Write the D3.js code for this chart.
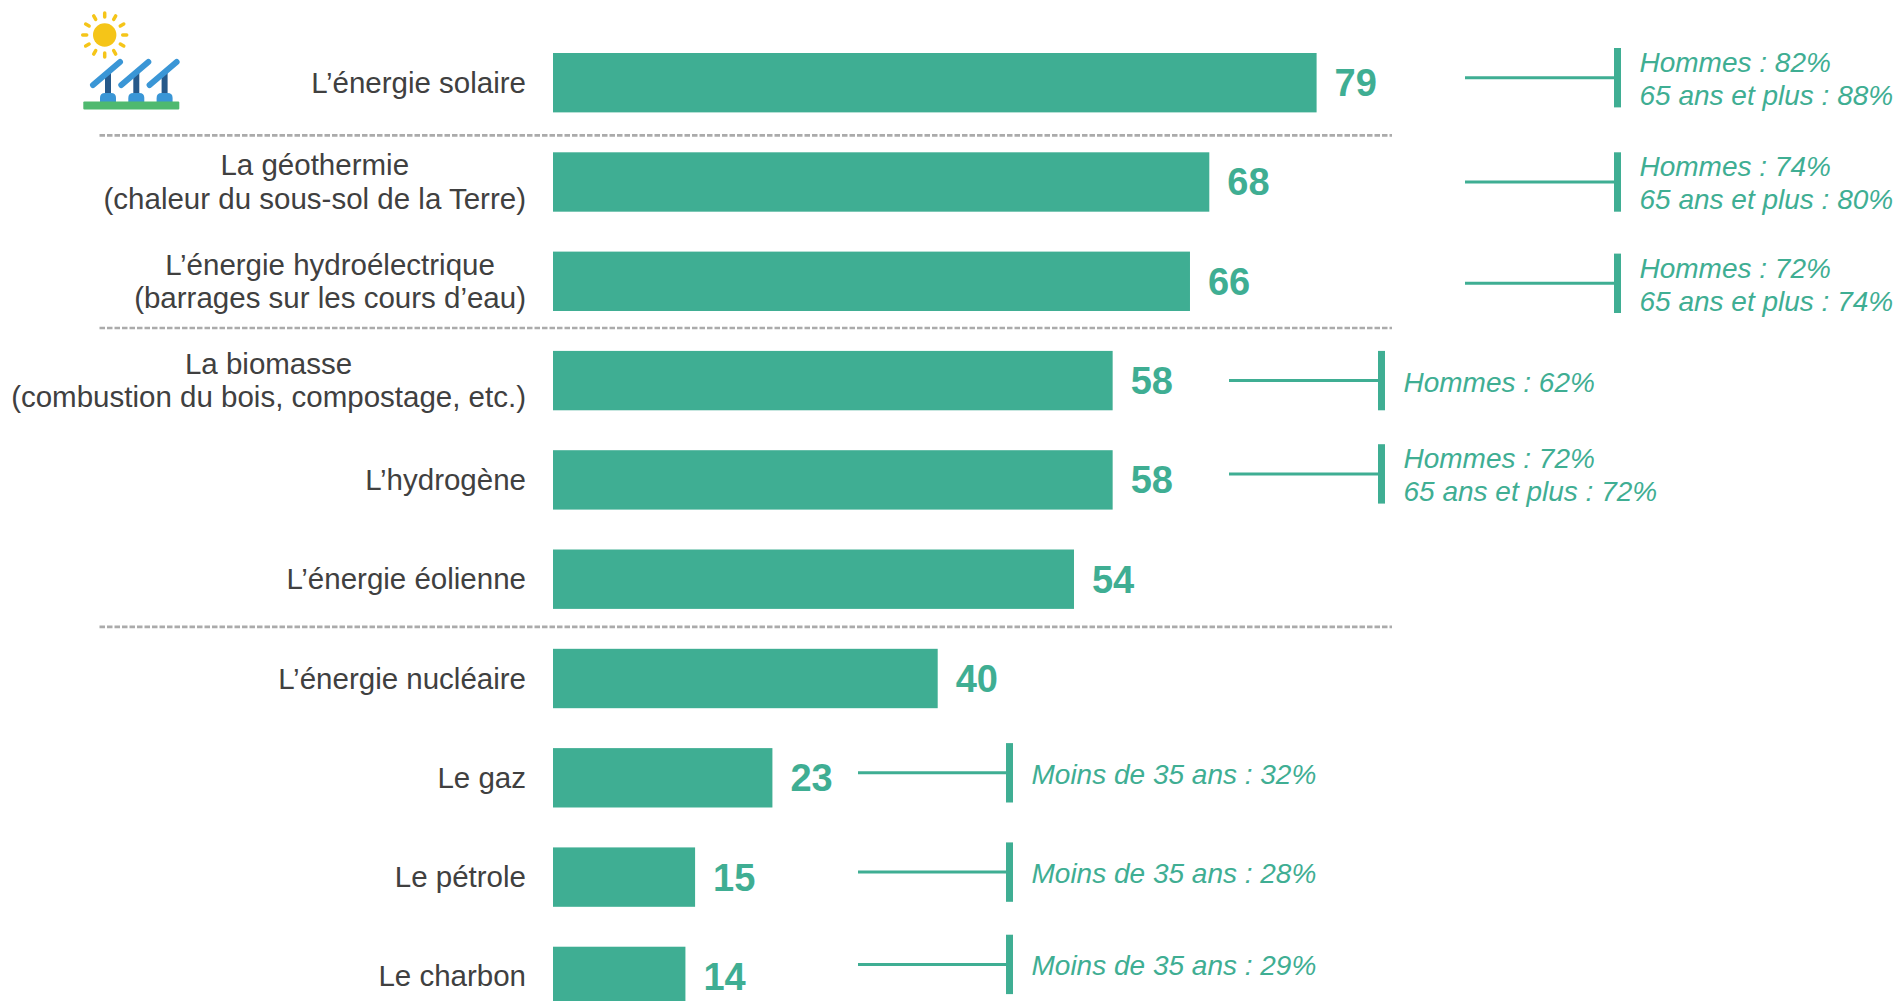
<!DOCTYPE html>
<html lang="fr"><head><meta charset="utf-8">
<script src="https://cdn.jsdelivr.net/npm/d3@7"></script>
<style>html,body{margin:0;background:#fff;overflow:hidden}svg{display:block}text{font-family:"Liberation Sans",Arial,sans-serif}</style>
</head><body><svg id="c" width="1898" height="1001"></svg>
<script>
// Data
const categories = [
  ["L’énergie solaire"],
  ["La géothermie","(chaleur du sous-sol de la Terre)"],
  ["L’énergie hydroélectrique","(barrages sur les cours d’eau)"],
  ["La biomasse","(combustion du bois, compostage, etc.)"],
  ["L’hydrogène"],
  ["L’énergie éolienne"],
  ["L’énergie nucléaire"],
  ["Le gaz"],
  ["Le pétrole"],
  ["Le charbon"]
];
const values = [79, 67.9, 65.9, 57.9, 57.9, 53.9, 39.8, 22.7, 14.7, 13.7];
const valueLabels = ["79","68","66","58","58","54","40","23","15","14"];
const callouts = [
  ["Hommes : 82%","65 ans et plus : 88%"],
  ["Hommes : 74%","65 ans et plus : 80%"],
  ["Hommes : 72%","65 ans et plus : 74%"],
  ["Hommes : 62%"],
  ["Hommes : 72%","65 ans et plus : 72%"],
  [],[],
  ["Moins de 35 ans : 32%"],
  ["Moins de 35 ans : 28%"],
  ["Moins de 35 ans : 29%"]
];
const separatorsAfter = [0,2,5];

// Layout
const TEAL="#3fae93", INK="#404040";
const svg=d3.select("#c");
const x=d3.scaleLinear().domain([0,79]).range([553,1316.6]);
const y=d3.scaleBand().domain(d3.range(categories.length)).range([53,1006.1]).paddingInner(0.402);
const calloutStart=i=> i<3?1465 : i<5?1229 : 858;
const calloutEnd=i=> i<3?1614 : i<5?1378 : 1006;
const calloutNudge={0:-5,1:0,2:2,3:0,4:-6,7:-5,8:-5,9:-12};
const sepNudge={0:3,2:-3,5:-2};

svg.append("g").selectAll("line").data(separatorsAfter).join("line")
  .attr("x1",99.5).attr("x2",1392)
  .attr("y1",i=>y(i)+y.bandwidth()+(y.step()-y.bandwidth())/2+sepNudge[i])
  .attr("y2",i=>y(i)+y.bandwidth()+(y.step()-y.bandwidth())/2+sepNudge[i])
  .attr("stroke","#ababab").attr("stroke-width",2.6).attr("stroke-dasharray","5.5 2");

svg.append("g").selectAll("rect").data(values).join("rect")
  .attr("x",x(0)).attr("y",(d,i)=>y(i)).attr("width",d=>x(d)-x(0)).attr("height",y.bandwidth()).attr("fill",TEAL);

svg.append("g").selectAll("text").data(valueLabels).join("text")
  .attr("x",(d,i)=>x(values[i])+18).attr("y",(d,i)=>y(i)+y.bandwidth()/2+13.5)
  .attr("font-size",38).attr("font-weight",700).attr("fill",TEAL).text(d=>d);

// Category labels: block right-aligned at the axis, lines centred inside
const labelRight=526, lh=33.5;
const lab=svg.append("g").attr("font-size",29.5).attr("fill",INK);
categories.forEach((lines,i)=>{
  const cy=y(i)+y.bandwidth()/2;
  const ts=lines.map((t,k)=>lab.append("text").attr("text-anchor","middle")
    .attr("y",cy+10+(k-(lines.length-1)/2)*lh).text(t));
  const w=d3.max(ts,s=>s.node().getComputedTextLength());
  ts.forEach(s=>s.attr("x",labelRight-w/2));
});

// Callouts
const cg=svg.append("g");
callouts.forEach((lines,i)=>{
  if(!lines.length) return;
  const top=y(i)+calloutNudge[i], cy=top+y.bandwidth()/2, xe=calloutEnd(i);
  cg.append("line").attr("x1",calloutStart(i)).attr("x2",xe).attr("y1",cy).attr("y2",cy)
    .attr("stroke",TEAL).attr("stroke-width",3);
  cg.append("rect").attr("x",xe).attr("y",top).attr("width",7).attr("height",y.bandwidth()).attr("fill",TEAL);
  lines.forEach((t,k)=>cg.append("text").attr("x",xe+25.5)
    .attr("y",cy+11+(k-(lines.length-1)/2)*33).attr("font-size",28).attr("font-style","italic").attr("fill",TEAL).text(t));
});

// Icon
const ic=svg.append("g");
const rays=d3.range(12);
ic.append("g").selectAll("line").data(rays).join("line")
  .attr("x1",d=>104.7+18*Math.cos(d*Math.PI/6)).attr("y1",d=>35+18*Math.sin(d*Math.PI/6))
  .attr("x2",d=>104.7+22*Math.cos(d*Math.PI/6)).attr("y2",d=>35+22*Math.sin(d*Math.PI/6))
  .attr("stroke","#f5c518").attr("stroke-width",3.5).attr("stroke-linecap","round");
ic.append("circle").attr("cx",104.7).attr("cy",35).attr("r",11.7).attr("fill","#f5c518");
[0,28.3,56.6].forEach(dx=>{
  ic.append("rect").attr("x",105+dx).attr("y",73).attr("width",6).attr("height",24).attr("fill","#26598a");
  ic.append("path").attr("d",`M${100+dx} 102 v-4 q0 -5 5 -5 h6 q5 0 5 5 v4 z`).attr("fill","#3a96d6");
  ic.append("line").attr("x1",93+dx).attr("y1",85).attr("x2",120+dx).attr("y2",62)
    .attr("stroke","#3a96d6").attr("stroke-width",6).attr("stroke-linecap","round");
});
ic.append("rect").attr("x",83.3).attr("y",101.5).attr("width",96).attr("height",8).attr("rx",1).attr("fill","#4fb96f");
</script></body></html>
